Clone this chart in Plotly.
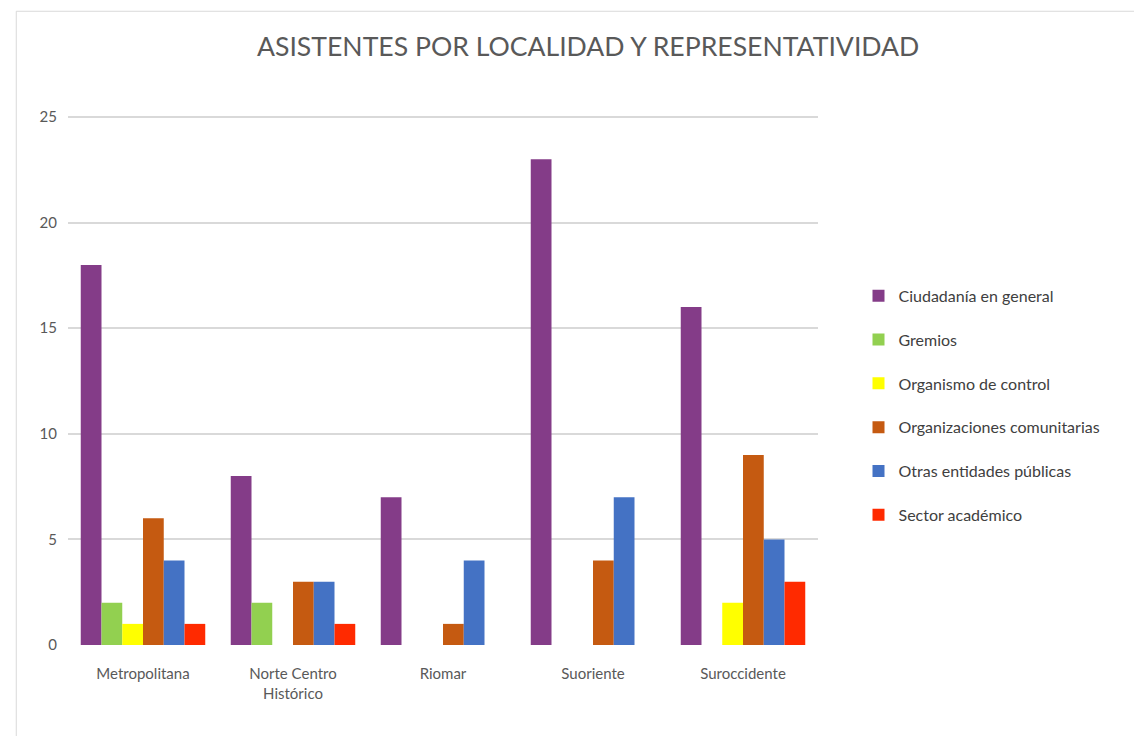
import plotly.graph_objects as go

categories = ["Metropolitana", "Norte Centro<br>Histórico", "Riomar", "Suoriente", "Suroccidente"]
series_names = ["Ciudadanía en general", "Gremios", "Organismo de control",
                "Organizaciones comunitarias", "Otras entidades públicas", "Sector académico"]
ciudadania = [18, 8, 7, 23, 16]
gremios = [2, 2, 0, 0, 0]
organismo = [1, 0, 0, 0, 2]
organizaciones = [6, 3, 1, 4, 9]
otras = [4, 3, 4, 7, 5]
academico = [1, 1, 0, 0, 3]
y_ticks = [0, 5, 10, 15, 20, 25]

values = [ciudadania, gremios, organismo, organizaciones, otras, academico]
colors = ["#843C88", "#92D050", "#FFFF00", "#C55A11", "#4472C4", "#FF2A00"]

fig = go.Figure()
for i, (name, vals, c) in enumerate(zip(series_names, values, colors)):
    fig.add_trace(go.Bar(
        name=name, x=categories, y=vals, legendgroup=f"g{i}",
        marker=dict(color=c, line=dict(width=0)),
    ))

fig.update_layout(
    width=1142, height=736,
    paper_bgcolor="white", plot_bgcolor="white",
    barmode="group", bargap=0.17, bargroupgap=0,
    margin=dict(l=60, r=332, t=108, b=99),
    title=dict(text="ASISTENTES POR LOCALIDAD Y REPRESENTATIVIDAD",
               x=0.508, xanchor="center", y=0.947, yanchor="middle",
               font=dict(family="Lato", size=26.6, color="#595959")),
    font=dict(family="Lato", color="#595959", size=15),
    legend=dict(x=1.054, y=0.453, xanchor="left", yanchor="middle",
                font=dict(family="Lato", size=16, color="#404040"),
                tracegroupgap=20, itemwidth=30, traceorder="grouped"),
    showlegend=True,
)
fig.update_yaxes(range=[0, 25.05], tickvals=y_ticks, showgrid=True,
                 gridcolor="#D9D9D9", gridwidth=1.5, zeroline=False,
                 ticks="", ticklabelstandoff=10,
                 tickfont=dict(size=15, color="#595959"))
fig.update_xaxes(showgrid=False, showline=False, ticks="",
                 tickfont=dict(size=15, color="#595959"), ticklabelstandoff=18)

fig.add_shape(type="rect", xref="paper", yref="paper",
              x0=-0.069, x1=1.45, y0=-0.2, y1=1.198,
              line=dict(color="#D9D9D9", width=1))

fig.write_html("out.html")
